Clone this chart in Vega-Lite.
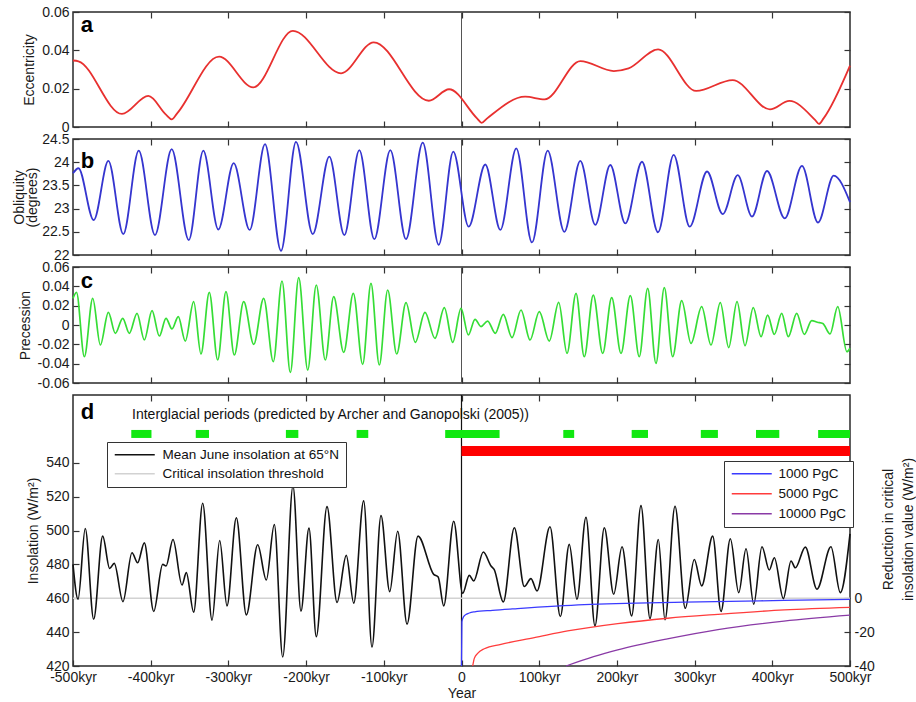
{
  "$schema": "https://vega.github.io/schema/vega-lite/v6.json",
  "background": "white",
  "padding": {"left": 12, "top": 4, "right": 1, "bottom": 4},
  "autosize": {"type": "pad"},
  "spacing": 12,
  "bounds": "flush",
  "datasets": {
    "ecc": [
      {"kyr": -500, "v": 0.0347}, {"kyr": -493, "v": 0.0343}, {"kyr": -437, "v": 0.0068}, {"kyr": -403, "v": 0.0162},
      {"kyr": -380, "v": 0.0063}, {"kyr": -373, "v": 0.004}, {"kyr": -366, "v": 0.0071}, {"kyr": -312, "v": 0.0367},
      {"kyr": -268, "v": 0.0207}, {"kyr": -217, "v": 0.0502}, {"kyr": -155, "v": 0.028}, {"kyr": -113, "v": 0.0442},
      {"kyr": -42, "v": 0.0137}, {"kyr": -16, "v": 0.0197}, {"kyr": 20, "v": 0.0045}, {"kyr": 26, "v": 0.0022},
      {"kyr": 33, "v": 0.0045}, {"kyr": 82, "v": 0.0158}, {"kyr": 107, "v": 0.0144}, {"kyr": 153, "v": 0.0344},
      {"kyr": 196, "v": 0.0292}, {"kyr": 215, "v": 0.0306}, {"kyr": 253, "v": 0.0405}, {"kyr": 302, "v": 0.0188},
      {"kyr": 349, "v": 0.0245}, {"kyr": 397, "v": 0.0092}, {"kyr": 422, "v": 0.0136}, {"kyr": 455, "v": 0.0037},
      {"kyr": 460, "v": 0.0016}, {"kyr": 466, "v": 0.0045}, {"kyr": 500, "v": 0.032}
    ],
    "obl": [
      {"kyr": -500, "v": 23.76}, {"kyr": -493, "v": 23.87}, {"kyr": -473.3, "v": 22.75}, {"kyr": -454.5, "v": 24.03},
      {"kyr": -435.3, "v": 22.45}, {"kyr": -415.4, "v": 24.25}, {"kyr": -394.5, "v": 22.43}, {"kyr": -373, "v": 24.28},
      {"kyr": -351, "v": 22.32}, {"kyr": -332.3, "v": 24.25}, {"kyr": -313, "v": 22.55}, {"kyr": -293.2, "v": 23.98},
      {"kyr": -272.6, "v": 22.54}, {"kyr": -252.9, "v": 24.39}, {"kyr": -232.3, "v": 22.09}, {"kyr": -213, "v": 24.44},
      {"kyr": -191.5, "v": 22.45}, {"kyr": -170.1, "v": 24.12}, {"kyr": -150.8, "v": 22.43}, {"kyr": -131.5, "v": 24.26},
      {"kyr": -112.2, "v": 22.34}, {"kyr": -91.6, "v": 24.26}, {"kyr": -71.4, "v": 22.34}, {"kyr": -49.9, "v": 24.42},
      {"kyr": -29.3, "v": 22.22}, {"kyr": -10.6, "v": 24.23}, {"kyr": 9.2, "v": 22.61}, {"kyr": 30.6, "v": 23.95},
      {"kyr": 50, "v": 22.54}, {"kyr": 70.5, "v": 24.3}, {"kyr": 90.7, "v": 22.27}, {"kyr": 110.9, "v": 24.25},
      {"kyr": 132.3, "v": 22.5}, {"kyr": 152.9, "v": 24.03}, {"kyr": 172.2, "v": 22.65}, {"kyr": 191.5, "v": 23.94},
      {"kyr": 210.8, "v": 22.68}, {"kyr": 232.3, "v": 24.01}, {"kyr": 252.9, "v": 22.49}, {"kyr": 273.1, "v": 24.16},
      {"kyr": 293.7, "v": 22.61}, {"kyr": 316, "v": 23.8}, {"kyr": 336.2, "v": 22.88}, {"kyr": 355.5, "v": 23.72},
      {"kyr": 373.9, "v": 22.83}, {"kyr": 393.2, "v": 23.81}, {"kyr": 416, "v": 22.79}, {"kyr": 438.2, "v": 23.92},
      {"kyr": 458.8, "v": 22.7}, {"kyr": 479, "v": 23.71}, {"kyr": 500, "v": 23.14}
    ],
    "pre": [
      {"kyr": -500, "v": 0.0276}, {"kyr": -495.5, "v": 0.0338}, {"kyr": -485.4, "v": -0.0328}, {"kyr": -474.6, "v": 0.0276},
      {"kyr": -464.8, "v": -0.0207}, {"kyr": -454.5, "v": 0.0131}, {"kyr": -445.5, "v": -0.0086}, {"kyr": -436, "v": 0.0069},
      {"kyr": -427.5, "v": -0.0086}, {"kyr": -417.6, "v": 0.0121}, {"kyr": -408.2, "v": -0.0155}, {"kyr": -398.3, "v": 0.0148},
      {"kyr": -388.9, "v": -0.0114}, {"kyr": -380.3, "v": 0.0069}, {"kyr": -372.6, "v": -0.0041}, {"kyr": -364.5, "v": 0.0086},
      {"kyr": -355.5, "v": -0.0166}, {"kyr": -344.7, "v": 0.0241}, {"kyr": -335.3, "v": -0.03}, {"kyr": -324.6, "v": 0.0338},
      {"kyr": -313.8, "v": -0.0362}, {"kyr": -303.1, "v": 0.0345}, {"kyr": -292.4, "v": -0.031}, {"kyr": -280.3, "v": 0.0241},
      {"kyr": -267.4, "v": -0.02}, {"kyr": -254.6, "v": 0.0276}, {"kyr": -242.2, "v": -0.0379}, {"kyr": -231, "v": 0.0455},
      {"kyr": -220.3, "v": -0.049}, {"kyr": -209.5, "v": 0.049}, {"kyr": -197.9, "v": -0.0466}, {"kyr": -186.9, "v": 0.0414},
      {"kyr": -175.3, "v": -0.0362}, {"kyr": -164.5, "v": 0.0293}, {"kyr": -151.6, "v": -0.0283}, {"kyr": -139.2, "v": 0.0328},
      {"kyr": -127.2, "v": -0.0407}, {"kyr": -116.5, "v": 0.0431}, {"kyr": -105.8, "v": -0.0414}, {"kyr": -95, "v": 0.0362},
      {"kyr": -83.4, "v": -0.03}, {"kyr": -71.4, "v": 0.0231}, {"kyr": -59.5, "v": -0.0179}, {"kyr": -47, "v": 0.0131},
      {"kyr": -34.1, "v": -0.0138}, {"kyr": -22.1, "v": 0.0179}, {"kyr": -11.3, "v": -0.0179}, {"kyr": -0.6, "v": 0.0172},
      {"kyr": 8.8, "v": -0.0103}, {"kyr": 17.4, "v": 0.0059}, {"kyr": 25.1, "v": -0.0017}, {"kyr": 33.7, "v": 0.0041},
      {"kyr": 43.5, "v": -0.0086}, {"kyr": 53.8, "v": 0.011}, {"kyr": 65, "v": -0.0131}, {"kyr": 76.6, "v": 0.0155},
      {"kyr": 88.2, "v": -0.0155}, {"kyr": 100.1, "v": 0.0138}, {"kyr": 113, "v": -0.0166}, {"kyr": 125.1, "v": 0.0234},
      {"kyr": 135.8, "v": -0.0293}, {"kyr": 147.4, "v": 0.0328}, {"kyr": 158, "v": -0.0328}, {"kyr": 169.6, "v": 0.031},
      {"kyr": 181.7, "v": -0.0293}, {"kyr": 193.3, "v": 0.0283}, {"kyr": 205.3, "v": -0.0293}, {"kyr": 217.3, "v": 0.0303},
      {"kyr": 228.8, "v": -0.0328}, {"kyr": 239.6, "v": 0.0379}, {"kyr": 250.3, "v": -0.0397}, {"kyr": 261, "v": 0.0386},
      {"kyr": 271.8, "v": -0.0328}, {"kyr": 283.4, "v": 0.0252}, {"kyr": 295.4, "v": -0.019}, {"kyr": 309.1, "v": 0.019},
      {"kyr": 321.1, "v": -0.0207}, {"kyr": 333.1, "v": 0.0231}, {"kyr": 343.9, "v": -0.0234}, {"kyr": 354.6, "v": 0.0241},
      {"kyr": 364.9, "v": -0.0214}, {"kyr": 375.5, "v": 0.0179}, {"kyr": 385.5, "v": -0.0121}, {"kyr": 394, "v": 0.0103},
      {"kyr": 402.6, "v": -0.0097}, {"kyr": 412.1, "v": 0.0121}, {"kyr": 420.6, "v": -0.0121}, {"kyr": 431.4, "v": 0.0121},
      {"kyr": 441.2, "v": -0.0097}, {"kyr": 450.7, "v": 0.0045}, {"kyr": 458, "v": 0.0028}, {"kyr": 465, "v": 0.0015},
      {"kyr": 474.3, "v": -0.0093}, {"kyr": 484.2, "v": 0.019}, {"kyr": 496, "v": -0.0276}, {"kyr": 500, "v": -0.024}
    ],
    "ins": [
      {"kyr": -500, "v": 460, "s": "Critical insolation threshold"},
      {"kyr": 500, "v": 460, "s": "Critical insolation threshold"},
      {"kyr": -500, "v": 480, "s": "Mean June insolation at 65°N"}, {"kyr": -493.5, "v": 459.4, "s": "Mean June insolation at 65°N"},
      {"kyr": -484.2, "v": 501.2, "s": "Mean June insolation at 65°N"}, {"kyr": -473.4, "v": 447.6, "s": "Mean June insolation at 65°N"},
      {"kyr": -461.8, "v": 496.7, "s": "Mean June insolation at 65°N"}, {"kyr": -452.8, "v": 477.6, "s": "Mean June insolation at 65°N"},
      {"kyr": -446.9, "v": 480.6, "s": "Mean June insolation at 65°N"}, {"kyr": -435.7, "v": 458, "s": "Mean June insolation at 65°N"},
      {"kyr": -424.1, "v": 486.9, "s": "Mean June insolation at 65°N"}, {"kyr": -416.8, "v": 481, "s": "Mean June insolation at 65°N"},
      {"kyr": -408.2, "v": 492.7, "s": "Mean June insolation at 65°N"}, {"kyr": -396.1, "v": 452.2, "s": "Mean June insolation at 65°N"},
      {"kyr": -384.6, "v": 480, "s": "Mean June insolation at 65°N"}, {"kyr": -380.3, "v": 479, "s": "Mean June insolation at 65°N"},
      {"kyr": -371.3, "v": 494.7, "s": "Mean June insolation at 65°N"}, {"kyr": -359.7, "v": 467.8, "s": "Mean June insolation at 65°N"},
      {"kyr": -354.2, "v": 475.1, "s": "Mean June insolation at 65°N"}, {"kyr": -344.7, "v": 451.8, "s": "Mean June insolation at 65°N"},
      {"kyr": -333.1, "v": 516.1, "s": "Mean June insolation at 65°N"}, {"kyr": -321.1, "v": 447.1, "s": "Mean June insolation at 65°N"},
      {"kyr": -311.2, "v": 494.1, "s": "Mean June insolation at 65°N"}, {"kyr": -301.8, "v": 455.5, "s": "Mean June insolation at 65°N"},
      {"kyr": -289.8, "v": 507.5, "s": "Mean June insolation at 65°N"}, {"kyr": -276.9, "v": 450.2, "s": "Mean June insolation at 65°N"},
      {"kyr": -262.3, "v": 491.6, "s": "Mean June insolation at 65°N"}, {"kyr": -251.2, "v": 470.8, "s": "Mean June insolation at 65°N"},
      {"kyr": -240.9, "v": 503.5, "s": "Mean June insolation at 65°N"}, {"kyr": -230.1, "v": 425.3, "s": "Mean June insolation at 65°N"},
      {"kyr": -216.9, "v": 526.3, "s": "Mean June insolation at 65°N"}, {"kyr": -206.6, "v": 452.4, "s": "Mean June insolation at 65°N"},
      {"kyr": -196.3, "v": 501.4, "s": "Mean June insolation at 65°N"}, {"kyr": -186.9, "v": 437.3, "s": "Mean June insolation at 65°N"},
      {"kyr": -173.1, "v": 514.1, "s": "Mean June insolation at 65°N"}, {"kyr": -160.2, "v": 457.5, "s": "Mean June insolation at 65°N"},
      {"kyr": -148.3, "v": 485.3, "s": "Mean June insolation at 65°N"}, {"kyr": -138.7, "v": 457.1, "s": "Mean June insolation at 65°N"},
      {"kyr": -125.9, "v": 517.5, "s": "Mean June insolation at 65°N"}, {"kyr": -115.2, "v": 431.2, "s": "Mean June insolation at 65°N"},
      {"kyr": -103.6, "v": 508.8, "s": "Mean June insolation at 65°N"}, {"kyr": -92.4, "v": 463.9, "s": "Mean June insolation at 65°N"},
      {"kyr": -82.1, "v": 499.6, "s": "Mean June insolation at 65°N"}, {"kyr": -70.1, "v": 444.7, "s": "Mean June insolation at 65°N"},
      {"kyr": -56, "v": 496.7, "s": "Mean June insolation at 65°N"}, {"kyr": -35.8, "v": 474.1, "s": "Mean June insolation at 65°N"},
      {"kyr": -30, "v": 472.5, "s": "Mean June insolation at 65°N"}, {"kyr": -22.9, "v": 455.5, "s": "Mean June insolation at 65°N"},
      {"kyr": -10, "v": 505.5, "s": "Mean June insolation at 65°N"}, {"kyr": 1.5, "v": 462.9, "s": "Mean June insolation at 65°N"},
      {"kyr": 10, "v": 473.5, "s": "Mean June insolation at 65°N"}, {"kyr": 15.7, "v": 470.2, "s": "Mean June insolation at 65°N"},
      {"kyr": 28.1, "v": 487.3, "s": "Mean June insolation at 65°N"}, {"kyr": 38, "v": 479, "s": "Mean June insolation at 65°N"},
      {"kyr": 42, "v": 477, "s": "Mean June insolation at 65°N"}, {"kyr": 53.8, "v": 457.8, "s": "Mean June insolation at 65°N"},
      {"kyr": 68, "v": 501.6, "s": "Mean June insolation at 65°N"}, {"kyr": 80.8, "v": 466.9, "s": "Mean June insolation at 65°N"},
      {"kyr": 89.4, "v": 471.6, "s": "Mean June insolation at 65°N"}, {"kyr": 97.2, "v": 464.3, "s": "Mean June insolation at 65°N"},
      {"kyr": 113.9, "v": 502.2, "s": "Mean June insolation at 65°N"}, {"kyr": 127.2, "v": 449.2, "s": "Mean June insolation at 65°N"},
      {"kyr": 138.7, "v": 491.8, "s": "Mean June insolation at 65°N"}, {"kyr": 148.6, "v": 459.4, "s": "Mean June insolation at 65°N"},
      {"kyr": 160.2, "v": 507.8, "s": "Mean June insolation at 65°N"}, {"kyr": 171.8, "v": 443.7, "s": "Mean June insolation at 65°N"},
      {"kyr": 183.8, "v": 501.6, "s": "Mean June insolation at 65°N"}, {"kyr": 195.9, "v": 462.4, "s": "Mean June insolation at 65°N"},
      {"kyr": 206.6, "v": 490.4, "s": "Mean June insolation at 65°N"}, {"kyr": 219, "v": 449.6, "s": "Mean June insolation at 65°N"},
      {"kyr": 231, "v": 514.7, "s": "Mean June insolation at 65°N"}, {"kyr": 242.6, "v": 448, "s": "Mean June insolation at 65°N"},
      {"kyr": 253.3, "v": 494.7, "s": "Mean June insolation at 65°N"}, {"kyr": 261.9, "v": 447.3, "s": "Mean June insolation at 65°N"},
      {"kyr": 274.8, "v": 514.3, "s": "Mean June insolation at 65°N"}, {"kyr": 288, "v": 454.1, "s": "Mean June insolation at 65°N"},
      {"kyr": 299.6, "v": 482.9, "s": "Mean June insolation at 65°N"}, {"kyr": 309.1, "v": 467.3, "s": "Mean June insolation at 65°N"},
      {"kyr": 323.3, "v": 496.7, "s": "Mean June insolation at 65°N"}, {"kyr": 334, "v": 452.2, "s": "Mean June insolation at 65°N"},
      {"kyr": 346, "v": 495.1, "s": "Mean June insolation at 65°N"}, {"kyr": 356.8, "v": 463.3, "s": "Mean June insolation at 65°N"},
      {"kyr": 366.2, "v": 489.2, "s": "Mean June insolation at 65°N"}, {"kyr": 376.1, "v": 456.5, "s": "Mean June insolation at 65°N"},
      {"kyr": 386.7, "v": 490.4, "s": "Mean June insolation at 65°N"}, {"kyr": 396.1, "v": 476.7, "s": "Mean June insolation at 65°N"},
      {"kyr": 402.6, "v": 483.9, "s": "Mean June insolation at 65°N"}, {"kyr": 414.2, "v": 459.8, "s": "Mean June insolation at 65°N"},
      {"kyr": 424.1, "v": 482, "s": "Mean June insolation at 65°N"}, {"kyr": 429.6, "v": 478, "s": "Mean June insolation at 65°N"},
      {"kyr": 442.5, "v": 490.2, "s": "Mean June insolation at 65°N"}, {"kyr": 457.5, "v": 465.3, "s": "Mean June insolation at 65°N"},
      {"kyr": 475.5, "v": 490.4, "s": "Mean June insolation at 65°N"}, {"kyr": 487.5, "v": 463.3, "s": "Mean June insolation at 65°N"},
      {"kyr": 500, "v": 498, "s": "Mean June insolation at 65°N"}
    ],
    "co2": [
      {"kyr": 0, "r": -40, "c": "1000 PgC"}, {"kyr": 0.5, "r": -14, "c": "1000 PgC"}, {"kyr": 2, "r": -11.5, "c": "1000 PgC"},
      {"kyr": 5, "r": -9.8, "c": "1000 PgC"}, {"kyr": 10, "r": -8.7, "c": "1000 PgC"}, {"kyr": 17, "r": -8, "c": "1000 PgC"},
      {"kyr": 40, "r": -7.1, "c": "1000 PgC"}, {"kyr": 72, "r": -6.1, "c": "1000 PgC"}, {"kyr": 158, "r": -3.8, "c": "1000 PgC"},
      {"kyr": 287, "r": -2.3, "c": "1000 PgC"}, {"kyr": 415, "r": -1.3, "c": "1000 PgC"}, {"kyr": 500, "r": -0.7, "c": "1000 PgC"},
      {"kyr": 14.4, "r": -40, "c": "5000 PgC"}, {"kyr": 16.5, "r": -35.5, "c": "5000 PgC"}, {"kyr": 20.8, "r": -32.5, "c": "5000 PgC"},
      {"kyr": 29.4, "r": -29.8, "c": "5000 PgC"}, {"kyr": 50.8, "r": -27.2, "c": "5000 PgC"}, {"kyr": 93.7, "r": -23.3, "c": "5000 PgC"},
      {"kyr": 136.6, "r": -19.3, "c": "5000 PgC"}, {"kyr": 201, "r": -15, "c": "5000 PgC"}, {"kyr": 265.4, "r": -11.8, "c": "5000 PgC"},
      {"kyr": 329.7, "r": -9.5, "c": "5000 PgC"}, {"kyr": 415.5, "r": -6.9, "c": "5000 PgC"}, {"kyr": 500, "r": -5.4, "c": "5000 PgC"},
      {"kyr": 134.5, "r": -40, "c": "10000 PgC"}, {"kyr": 170, "r": -34.5, "c": "10000 PgC"}, {"kyr": 201, "r": -30.5, "c": "10000 PgC"},
      {"kyr": 265, "r": -24, "c": "10000 PgC"}, {"kyr": 330, "r": -18.5, "c": "10000 PgC"}, {"kyr": 415, "r": -13.5, "c": "10000 PgC"},
      {"kyr": 500, "r": -10, "c": "10000 PgC"}
    ],
    "glacial": [
      {"start": -425, "end": -399}, {"start": -342, "end": -325}, {"start": -226, "end": -210},
      {"start": -135, "end": -120}, {"start": -21, "end": 49}, {"start": 131, "end": 145},
      {"start": 219, "end": 240}, {"start": 308, "end": 330}, {"start": 379, "end": 409}, {"start": 459, "end": 500}
    ],
    "warm": [{"start": 0, "end": 500}],
    "one": [{"id": 1}]
  },
  "vconcat": [
    {
      "width": 777, "height": 115,
      "layer": [
        {"data": {"name": "one"}, "mark": {"type": "rule", "color": "#555555", "strokeWidth": 1},
         "encoding": {"x": {"datum": 0, "type": "quantitative", "scale": {"domain": [-500, 500], "nice": false},
           "axis": {"orient": "top", "values": [-400, -300, -200, -100, 0, 100, 200, 300, 400], "labels": false, "title": null}}}},
        {"data": {"name": "ecc"}, "mark": {"type": "line", "interpolate": "monotone", "color": "#e8302f", "strokeWidth": 1.8},
         "encoding": {
           "x": {"field": "kyr", "type": "quantitative", "scale": {"domain": [-500, 500], "nice": false},
             "axis": {"orient": "bottom", "values": [-400, -300, -200, -100, 0, 100, 200, 300, 400], "labels": false, "title": null}},
           "y": {"field": "v", "type": "quantitative", "scale": {"domain": [0, 0.06], "nice": false, "zero": false},
             "axis": {"orient": "left", "values": [0, 0.02, 0.04, 0.06], "labelExpr": "'' + datum.value", "title": "Eccentricity"}}}},
        {"data": {"name": "one"}, "mark": {"type": "text", "fontSize": 22, "fontWeight": "bold", "align": "left", "baseline": "alphabetic", "color": "#000"},
         "encoding": {"x": {"datum": -490, "type": "quantitative", "axis": null},
           "y": {"datum": 0.0497, "type": "quantitative", "axis": {"orient": "right", "values": [0, 0.02, 0.04, 0.06], "labels": false, "title": null}},
           "text": {"value": "a"}}}
      ],
      "resolve": {"axis": {"x": "independent", "y": "independent"}}
    },
    {
      "width": 777, "height": 116,
      "layer": [
        {"data": {"name": "one"}, "mark": {"type": "rule", "color": "#555555", "strokeWidth": 1},
         "encoding": {"x": {"datum": 0, "type": "quantitative", "scale": {"domain": [-500, 500], "nice": false},
           "axis": {"orient": "top", "values": [-400, -300, -200, -100, 0, 100, 200, 300, 400], "labels": false, "title": null}}}},
        {"data": {"name": "obl"}, "mark": {"type": "line", "interpolate": "monotone", "color": "#3535cf", "strokeWidth": 1.8},
         "encoding": {
           "x": {"field": "kyr", "type": "quantitative", "scale": {"domain": [-500, 500], "nice": false},
             "axis": {"orient": "bottom", "values": [-400, -300, -200, -100, 0, 100, 200, 300, 400], "labels": false, "title": null}},
           "y": {"field": "v", "type": "quantitative", "scale": {"domain": [22, 24.5], "nice": false, "zero": false},
             "axis": {"orient": "left", "values": [22, 22.5, 23, 23.5, 24, 24.5], "labelExpr": "'' + datum.value", "title": ["Obliquity", "(degrees)"], "titleLineHeight": 13, "titlePadding": 2}}}},
        {"data": {"name": "one"}, "mark": {"type": "text", "fontSize": 22, "fontWeight": "bold", "align": "left", "baseline": "alphabetic", "color": "#000"},
         "encoding": {"x": {"datum": -490, "type": "quantitative", "axis": null},
           "y": {"datum": 23.87, "type": "quantitative", "axis": {"orient": "right", "values": [22, 22.5, 23, 23.5, 24, 24.5], "labels": false, "title": null}},
           "text": {"value": "b"}}}
      ],
      "resolve": {"axis": {"x": "independent", "y": "independent"}}
    },
    {
      "width": 777, "height": 116,
      "layer": [
        {"data": {"name": "one"}, "mark": {"type": "rule", "color": "#555555", "strokeWidth": 1},
         "encoding": {"x": {"datum": 0, "type": "quantitative", "scale": {"domain": [-500, 500], "nice": false},
           "axis": {"orient": "top", "values": [-400, -300, -200, -100, 0, 100, 200, 300, 400], "labels": false, "title": null}}}},
        {"data": {"name": "pre"}, "mark": {"type": "line", "interpolate": "monotone", "color": "#36dd36", "strokeWidth": 1.7},
         "encoding": {
           "x": {"field": "kyr", "type": "quantitative", "scale": {"domain": [-500, 500], "nice": false},
             "axis": {"orient": "bottom", "values": [-400, -300, -200, -100, 0, 100, 200, 300, 400], "labels": false, "title": null}},
           "y": {"field": "v", "type": "quantitative", "scale": {"domain": [-0.06, 0.06], "nice": false, "zero": false},
             "axis": {"orient": "left", "values": [-0.06, -0.04, -0.02, 0, 0.02, 0.04, 0.06], "labelExpr": "'' + datum.value", "title": "Precession"}}}},
        {"data": {"name": "one"}, "mark": {"type": "text", "fontSize": 22, "fontWeight": "bold", "align": "left", "baseline": "alphabetic", "color": "#000"},
         "encoding": {"x": {"datum": -490, "type": "quantitative", "axis": null},
           "y": {"datum": 0.0386, "type": "quantitative", "axis": {"orient": "right", "values": [-0.06, -0.04, -0.02, 0, 0.02, 0.04, 0.06], "labels": false, "title": null}},
           "text": {"value": "c"}}}
      ],
      "resolve": {"axis": {"x": "independent", "y": "independent"}}
    },
    {
      "width": 777, "height": 271,
      "layer": [
        {"data": {"name": "one"}, "mark": {"type": "rule", "color": "#111111", "strokeWidth": 1.2},
         "encoding": {"x": {"datum": 0, "type": "quantitative", "scale": {"domain": [-500, 500], "nice": false},
           "axis": {"orient": "top", "values": [-400, -300, -200, -100, 0, 100, 200, 300, 400], "labels": false, "title": null}}}},
        {"data": {"name": "ins"}, "mark": {"type": "line", "interpolate": "monotone", "strokeWidth": 1.6},
         "encoding": {
           "x": {"field": "kyr", "type": "quantitative", "scale": {"domain": [-500, 500], "nice": false},
             "axis": {"orient": "bottom", "values": [-500, -400, -300, -200, -100, 0, 100, 200, 300, 400, 500],
               "labelExpr": "datum.value == 0 ? '0' : datum.value + 'kyr'", "title": "Year", "titlePadding": 2}},
           "y": {"field": "v", "type": "quantitative", "scale": {"domain": [420, 580], "nice": false, "zero": false},
             "axis": {"orient": "left", "values": [420, 440, 460, 480, 500, 520, 540], "labelExpr": "'' + datum.value", "title": "Insolation (W/m²)"}},
           "color": {"field": "s", "type": "nominal",
             "scale": {"domain": ["Mean June insolation at 65°N", "Critical insolation threshold"], "range": ["#111111", "#d2d2d2"]},
             "legend": {"orient": "none", "legendX": 34, "legendY": 47, "title": null, "strokeColor": "#333333", "fillColor": "white",
               "padding": 6, "symbolType": "M-1,0H7", "symbolSize": 100, "symbolStrokeWidth": 1.6, "labelOffset": 36, "rowPadding": 4,
               "labelFontSize": 13.5, "labelColor": "#111111", "labelLimit": 400}}}},
        {"data": {"name": "co2"}, "mark": {"type": "line", "interpolate": "monotone", "strokeWidth": 1.3},
         "encoding": {
           "x": {"field": "kyr", "type": "quantitative", "scale": {"domain": [-500, 500], "nice": false}, "axis": null},
           "y": {"field": "r", "type": "quantitative", "scale": {"domain": [-40, 120], "nice": false, "zero": false},
             "axis": {"orient": "right", "values": [-40, -20, 0], "labelExpr": "'' + datum.value",
               "title": ["Reduction in critical", "insolation value (W/m²)"], "titleAngle": 270, "titleBaseline": "top",
               "titleLineHeight": 20, "titleX": 31, "titleY": 134, "titleAlign": "center"}},
           "color": {"field": "c", "type": "nominal",
             "scale": {"domain": ["1000 PgC", "5000 PgC", "10000 PgC"], "range": ["#3a3aff", "#ff3c3c", "#8a3aa6"]},
             "legend": {"orient": "none", "legendX": 651, "legendY": 66, "title": null, "strokeColor": "#333333", "fillColor": "white",
               "padding": 6, "symbolType": "M-1,0H7", "symbolSize": 100, "symbolStrokeWidth": 1.3, "labelOffset": 35, "rowPadding": 5,
               "labelFontSize": 13.5, "labelColor": "#111111", "labelLimit": 400}}}},
        {"data": {"name": "glacial"}, "mark": {"type": "rule", "color": "#10e810", "strokeWidth": 8},
         "encoding": {
           "x": {"field": "start", "type": "quantitative", "scale": {"domain": [-500, 500], "nice": false}, "axis": null},
           "x2": {"field": "end"},
           "y": {"datum": 557, "type": "quantitative", "scale": {"domain": [420, 580], "nice": false, "zero": false}, "axis": null}}},
        {"data": {"name": "warm"}, "mark": {"type": "rule", "color": "#ff0000", "strokeWidth": 10},
         "encoding": {
           "x": {"field": "start", "type": "quantitative", "scale": {"domain": [-500, 500], "nice": false}, "axis": null},
           "x2": {"field": "end"},
           "y": {"datum": 547, "type": "quantitative", "scale": {"domain": [420, 580], "nice": false, "zero": false}, "axis": null}}},
        {"data": {"name": "one"}, "mark": {"type": "text", "fontSize": 14, "align": "left", "baseline": "middle", "color": "#111111"},
         "encoding": {"x": {"datum": -424, "type": "quantitative", "axis": null},
           "y": {"datum": 568.2, "type": "quantitative", "scale": {"domain": [420, 580], "nice": false, "zero": false}, "axis": null},
           "text": {"value": "Interglacial periods (predicted by Archer and Ganopolski (2005))"}}},
        {"data": {"name": "one"}, "mark": {"type": "text", "fontSize": 22, "fontWeight": "bold", "align": "left", "baseline": "alphabetic", "color": "#000"},
         "encoding": {"x": {"datum": -490, "type": "quantitative", "axis": null},
           "y": {"datum": 565.7, "type": "quantitative", "scale": {"domain": [420, 580], "nice": false, "zero": false}, "axis": null},
           "text": {"value": "d"}}}
      ],
      "resolve": {"scale": {"y": "independent", "color": "independent"}, "axis": {"x": "independent"}}
    }
  ],
  "config": {
    "font": "Liberation Sans",
    "view": {"stroke": "#2a2a2a", "strokeWidth": 1.5},
    "axis": {"labelFontSize": 14, "titleFontSize": 14, "titleFontWeight": "normal", "labelColor": "#1a1a1a", "titleColor": "#1a1a1a",
      "tickColor": "#333333", "tickWidth": 1.2, "tickSize": -6, "domain": false, "grid": false, "labelPadding": 10,
      "labelFlush": false, "labelOverlap": false, "titlePadding": 5}
  }
}
